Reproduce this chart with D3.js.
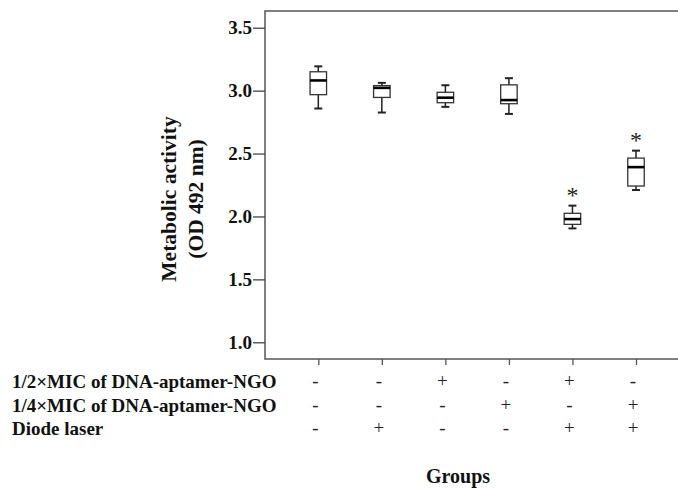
<!DOCTYPE html>
<html lang="en">
<head>
<meta charset="utf-8">
<title>Metabolic activity box plot</title>
<script src="https://cdn.jsdelivr.net/npm/d3@7/dist/d3.min.js"></script>
<style>
    body { margin: 0; background: #fff; }
    svg { font-family: "Liberation Serif", "Times New Roman", serif; }
</style>
</head>
<body>
<script>
// data
var groups = ["G1", "G2", "G3", "G4", "G5", "G6"];
var whiskerLow  = [2.858, 2.826, 2.871, 2.815, 1.905, 2.210];
var q1          = [2.968, 2.946, 2.904, 2.896, 1.937, 2.242];
var median      = [3.081, 3.022, 2.944, 2.925, 1.979, 2.392];
var q3          = [3.150, 3.040, 2.987, 3.046, 2.025, 2.464];
var whiskerHigh = [3.193, 3.062, 3.043, 3.099, 2.086, 2.523];
var significant = [false, false, false, false, true, true];

var rowLabels = ["1/2\u00d7MIC of DNA-aptamer-NGO", "1/4\u00d7MIC of DNA-aptamer-NGO", "Diode laser"];
var halfMic = ["-", "-", "+", "-", "+", "-"];
var quarterMic = ["-", "-", "-", "+", "-", "+"];
var laser = ["-", "+", "-", "-", "+", "+"];
var yTicks = [1.0, 1.5, 2.0, 2.5, 3.0, 3.5];

var w = 678, h = 489;
var plotLeft = 265, plotTop = 11, plotBottom = 359;

var svg = d3.select("body").append("svg")
    .attr("width", w)
    .attr("height", h);

var y = d3.scaleLinear().domain([0.867, 3.633]).range([plotBottom, plotTop]);
var x = d3.scalePoint().domain(groups).range([318.3, 636]);

// frame (right side runs off the picture)
svg.append("rect")
    .attr("x", plotLeft).attr("y", plotTop)
    .attr("width", w + 20 - plotLeft).attr("height", plotBottom - plotTop)
    .attr("fill", "none")
    .attr("stroke", "#555")
    .attr("stroke-width", 1.5);

// y axis
var yAxis = svg.append("g")
    .attr("transform", "translate(" + plotLeft + ",0)")
    .call(d3.axisLeft(y).tickValues(yTicks).tickSize(12).tickPadding(1)
        .tickFormat(d3.format(".1f")));
yAxis.select(".domain").remove();
yAxis.selectAll("line").attr("stroke", "#444").attr("stroke-width", 1.3);
yAxis.selectAll("text")
    .attr("font-family", "Liberation Serif")
    .attr("font-weight", "bold")
    .attr("font-size", "19px")
    .attr("fill", "#111");

// x axis ticks, no labels
var xAxis = svg.append("g")
    .attr("transform", "translate(0," + plotBottom + ")")
    .call(d3.axisBottom(x).tickSize(6).tickFormat(""));
xAxis.select(".domain").remove();
xAxis.selectAll("line").attr("stroke", "#555").attr("stroke-width", 1.3);

// boxes
var boxW = 16.5, capW = 8;
var box = svg.selectAll("g.box")
    .data(groups)
    .enter()
    .append("g")
    .attr("class", "box");

box.append("line") // whisker
    .attr("x1", function(d) { return x(d); })
    .attr("x2", function(d) { return x(d); })
    .attr("y1", function(d, i) { return y(whiskerLow[i]); })
    .attr("y2", function(d, i) { return y(whiskerHigh[i]); })
    .attr("stroke", "#222").attr("stroke-width", 1.5);

box.append("line") // top cap
    .attr("x1", function(d) { return x(d) - capW / 2; })
    .attr("x2", function(d) { return x(d) + capW / 2; })
    .attr("y1", function(d, i) { return y(whiskerHigh[i]); })
    .attr("y2", function(d, i) { return y(whiskerHigh[i]); })
    .attr("stroke", "#222").attr("stroke-width", 2);

box.append("line") // bottom cap
    .attr("x1", function(d) { return x(d) - capW / 2; })
    .attr("x2", function(d) { return x(d) + capW / 2; })
    .attr("y1", function(d, i) { return y(whiskerLow[i]); })
    .attr("y2", function(d, i) { return y(whiskerLow[i]); })
    .attr("stroke", "#222").attr("stroke-width", 2);

box.append("rect")
    .attr("x", function(d) { return x(d) - boxW / 2; })
    .attr("y", function(d, i) { return y(q3[i]); })
    .attr("width", boxW)
    .attr("height", function(d, i) { return y(q1[i]) - y(q3[i]); })
    .attr("fill", "#fff")
    .attr("stroke", "#333")
    .attr("stroke-width", 1.3);

box.append("line") // median
    .attr("x1", function(d) { return x(d) - boxW / 2; })
    .attr("x2", function(d) { return x(d) + boxW / 2; })
    .attr("y1", function(d, i) { return y(median[i]); })
    .attr("y2", function(d, i) { return y(median[i]); })
    .attr("stroke", "#000").attr("stroke-width", 2.6);

// asterisks
svg.selectAll("text.star")
    .data(groups.filter(function(d, i) { return significant[i]; }))
    .enter()
    .append("text")
    .attr("class", "star")
    .attr("x", function(d) { return x(d); })
    .attr("y", function(d) {
        return y(whiskerHigh[groups.indexOf(d)]) - 3;
    })
    .attr("text-anchor", "middle")
    .attr("font-family", "Liberation Serif")
    .attr("font-size", "24px")
    .attr("fill", "#222")
    .text("*");

// y title
var yTitle = svg.append("text")
    .attr("transform", "translate(168,199) rotate(-90)")
    .attr("text-anchor", "middle")
    .attr("font-family", "Liberation Serif")
    .attr("font-weight", "bold")
    .attr("font-size", "21.5px")
    .attr("fill", "#111");
yTitle.append("tspan").attr("x", 0).attr("dy", "0.35em").text("Metabolic activity");
yTitle.append("tspan").attr("x", 0).attr("dy", 27).text("(OD 492 nm)");

// treatment table
var rows = [halfMic, quarterMic, laser];
var rowY = [388, 411.5, 434.5];

svg.selectAll("text.rowlabel")
    .data(rowLabels)
    .enter()
    .append("text")
    .attr("class", "rowlabel")
    .attr("x", 12)
    .attr("y", function(d, i) { return rowY[i]; })
    .attr("font-family", "Liberation Serif")
    .attr("font-weight", "bold")
    .attr("font-size", "19px")
    .attr("fill", "#111")
    .text(function(d) { return d; });

rows.forEach(function(row, r) {
    svg.selectAll("text.sign" + r)
        .data(row)
        .enter()
        .append("text")
        .attr("class", "sign" + r)
        .attr("x", function(d, i) { return x(groups[i]) - 3; })
        .attr("y", rowY[r] - 1)
        .attr("text-anchor", "middle")
        .attr("font-family", "Liberation Serif")
        .attr("font-size", "19px")
        .attr("fill", "#222")
        .text(function(d) { return d; });
});

svg.append("text")
    .attr("x", 458)
    .attr("y", 483)
    .attr("text-anchor", "middle")
    .attr("font-family", "Liberation Serif")
    .attr("font-weight", "bold")
    .attr("font-size", "20px")
    .attr("fill", "#111")
    .text("Groups");
</script>
</body>
</html>
